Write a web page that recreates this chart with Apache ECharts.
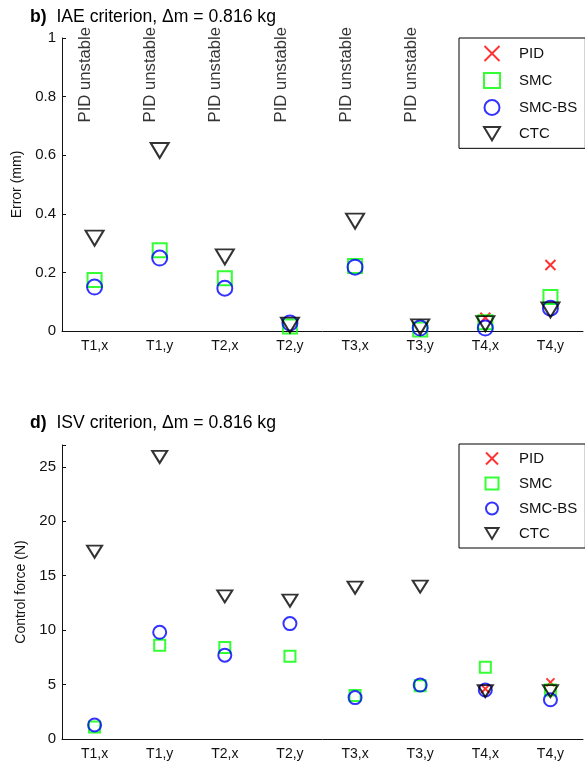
<!DOCTYPE html>
<html>
<head>
<meta charset="utf-8">
<script src="https://cdn.jsdelivr.net/npm/echarts@6/dist/echarts.min.js"></script>
<style>
html, body { margin: 0; padding: 0; background: #fff; }
#main { width: 585px; height: 766px; }
</style>
</head>
<body>
<div id="main"></div>
<script>
var categories = ['T1,x', 'T1,y', 'T2,x', 'T2,y', 'T3,x', 'T3,y', 'T4,x', 'T4,y'];

// b) IAE criterion, error (mm)
var iaePid   = [null, null, null, null, null, null, 0.045, 0.225];
var iaeSmc   = [0.174, 0.276, 0.180, 0.015, 0.222, 0.005, 0.030, 0.116];
var iaeSmcBs = [0.150, 0.249, 0.146, 0.027, 0.218, 0.010, 0.010, 0.078];
var iaeCtc   = [0.317, 0.616, 0.253, 0.020, 0.375, 0.014, 0.025, 0.072];
var pidUnstable = [true, true, true, true, true, true, false, false];

// d) ISV criterion, control force (N)
var isvPid   = [null, null, null, null, null, null, 4.6, 5.2];
var isvSmc   = [1.1, 8.6, 8.4, 7.6, 4.0, 4.9, 6.6, 4.5];
var isvSmcBs = [1.29, 9.8, 7.7, 10.6, 3.8, 4.96, 4.5, 3.6];
var isvCtc   = [17.2, 25.9, 13.1, 12.7, 13.9, 14.0, 4.4, 4.4];

var FONT = '"Liberation Sans", Arial, sans-serif';
var TXT = '#111';
var CROSS = 'path://M0,0L10,10M0,10L10,0';
var TRI_DOWN = 'path://M0,0L12,0L6,10Z';

function pairs(vals) {
    var out = [];
    for (var i = 0; i < vals.length; i++) {
        if (vals[i] != null) out.push([categories[i], vals[i]]);
    }
    return out;
}

function xAxis(idx) {
    return {
        type: 'category', gridIndex: idx, data: categories, boundaryGap: true,
        axisLine: { lineStyle: { color: '#111', width: 1 } },
        axisTick: { inside: true, alignWithLabel: true, length: 4, lineStyle: { color: '#111' } },
        axisLabel: { fontSize: 14, color: TXT, margin: 8, fontFamily: FONT },
        splitLine: { show: false }
    };
}

function yAxis(idx, max, interval, name, gap) {
    return {
        type: 'value', gridIndex: idx, min: 0, max: max, interval: interval,
        name: name, nameLocation: 'middle', nameGap: gap,
        nameTextStyle: { fontSize: 14, color: TXT, fontFamily: FONT },
        axisLine: { show: true, lineStyle: { color: '#111', width: 1 } },
        axisTick: { show: true, inside: true, length: 4, lineStyle: { color: '#111' } },
        axisLabel: {
            fontSize: 15, color: TXT, margin: 6, fontFamily: FONT,
            formatter: function (v) {
                var k = Math.round(v / interval * 1000) / 1000;
                return (k === Math.round(k)) ? String(Math.round(v * 100) / 100) : '';
            }
        },
        splitLine: { show: false }
    };
}

function markerSeries(idx, big) {
    return [
        { name: 'PID', symbol: CROSS, symbolSize: big ? 10 : 8,
          itemStyle: { color: 'rgba(0,0,0,0)', borderColor: '#ff0000', borderWidth: 2 } },
        { name: 'SMC', symbol: 'rect', symbolSize: big ? 14 : 11,
          itemStyle: { color: 'rgba(0,0,0,0)', borderColor: '#00ff00', borderWidth: 2 } },
        { name: 'SMC-BS', symbol: 'circle', symbolSize: big ? 15 : 13,
          itemStyle: { color: 'rgba(0,0,0,0)', borderColor: '#0000ff', borderWidth: 2 } },
        { name: 'CTC', symbol: 'triangle', symbolRotate: 180, symbolSize: big ? [18, 15] : [15, 12],
          itemStyle: { color: 'rgba(0,0,0,0)', borderColor: '#000000', borderWidth: 2 } }
    ].map(function (o) {
        o.type = 'scatter';
        o.xAxisIndex = idx;
        o.yAxisIndex = idx;
        o.emphasis = { disabled: true };
        return o;
    });
}

var topSeries = markerSeries(0, true);
topSeries[0].data = pairs(iaePid);
topSeries[1].data = pairs(iaeSmc);
topSeries[2].data = pairs(iaeSmcBs);
topSeries[3].data = pairs(iaeCtc);

var bottomSeries = markerSeries(1, false);
bottomSeries[0].data = pairs(isvPid);
bottomSeries[1].data = pairs(isvSmc);
bottomSeries[2].data = pairs(isvSmcBs);
bottomSeries[3].data = pairs(isvCtc);

var unstableData = [];
for (var i = 0; i < categories.length; i++) {
    if (pidUnstable[i]) unstableData.push([categories[i], 0.71]);
}

var unstableSeries = {
    type: 'scatter', name: 'PID unstable', xAxisIndex: 0, yAxisIndex: 0,
    symbolSize: 1, silent: true,
    itemStyle: { color: 'rgba(0,0,0,0)' },
    label: {
        show: true, formatter: 'PID unstable', position: [0, 0], rotate: 90,
        align: 'left', verticalAlign: 'bottom',
        fontSize: 16.7, color: '#000', fontFamily: FONT
    },
    data: unstableData
};

// icon box centred at x=491, text starting at x=518
function legend(topPx, w, h) {
    var iconLeft = 491 - w / 2;
    return {
        orient: 'vertical', left: 459, top: topPx,
        data: ['PID', 'SMC', 'SMC-BS', { name: 'CTC', icon: TRI_DOWN }],
        itemWidth: w, itemHeight: h, itemGap: 10,
        selectedMode: false,
        padding: [7, 8, 7, iconLeft - 459],
        borderColor: '#000', borderWidth: 1,
        textStyle: { fontSize: 15, color: TXT, fontFamily: FONT,
                     padding: [0, 0, 0, 518 - (iconLeft + w + 5)] }
    };
}

var titleStyle = {
    fontSize: 17.6, fontWeight: 'normal', color: '#000', fontFamily: FONT,
    rich: { b: { fontSize: 17.6, fontWeight: 'bold', color: '#000', fontFamily: FONT } }
};

var chart = echarts.init(document.getElementById('main'));
chart.setOption({
    animation: false,
    backgroundColor: '#fff',
    title: [
        { text: '{b|b)}  IAE criterion, Δm = 0.816 kg', left: 30, top: 8, padding: 0, textStyle: titleStyle },
        { text: '{b|d)}  ISV criterion, Δm = 0.816 kg', left: 30, top: 414, padding: 0, textStyle: titleStyle }
    ],
    legend: [legend(38, 16, 15), legend(444, 13, 12)],
    grid: [
        { left: 62, top: 38, width: 521, height: 293 },
        { left: 62, top: 445, width: 521, height: 294 }
    ],
    xAxis: [xAxis(0), xAxis(1)],
    yAxis: [yAxis(0, 1, 0.2, 'Error (mm)', 35), yAxis(1, 27, 5, 'Control force (N)', 30)],
    series: [unstableSeries].concat(topSeries, bottomSeries)
});
</script>
</body>
</html>
